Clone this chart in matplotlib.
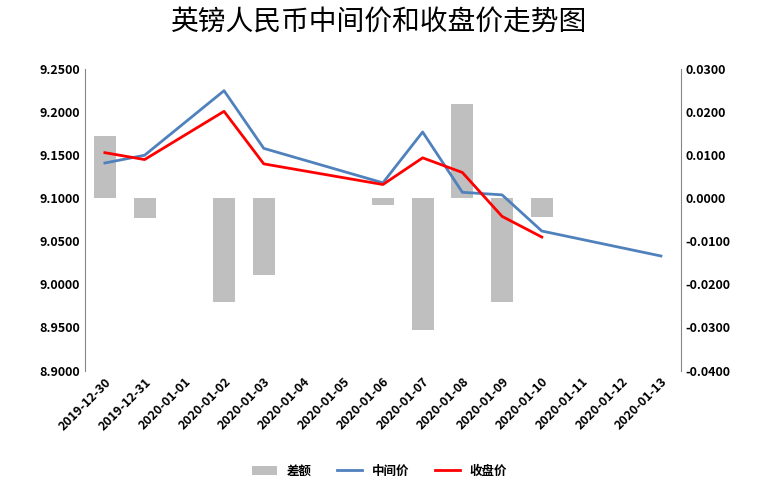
import matplotlib.pyplot as plt
import numpy as np

plt.rcParams['font.family'] = ['Noto Sans CJK SC', 'DejaVu Sans']

dates = ['2019-12-30', '2019-12-31', '2020-01-01', '2020-01-02', '2020-01-03',
         '2020-01-04', '2020-01-05', '2020-01-06', '2020-01-07', '2020-01-08',
         '2020-01-09', '2020-01-10', '2020-01-11', '2020-01-12', '2020-01-13']
nan = np.nan
mid = [9.141, 9.150, nan, 9.225, 9.158, nan, nan, 9.118, 9.177, 9.107,
       9.104, 9.062, nan, nan, 9.033]
close = [9.153, 9.145, nan, 9.201, 9.140, nan, nan, 9.116, 9.147, 9.130,
         9.079, 9.055, nan, nan, nan]
diff = [0.0145, -0.0045, nan, -0.0240, -0.0178, nan, nan, -0.0015, -0.0305,
        0.0218, -0.0240, -0.0043, nan, nan, nan]

x = np.arange(len(dates))
fig = plt.figure(figsize=(7.59, 4.94), dpi=100)
ax = fig.add_axes([0.112, 0.25, 0.785, 0.61])
ax2 = ax.twinx()

ax2.bar(x, diff, width=0.55, color='#bfbfbf', label='差额', zorder=1)
ax2.set_ylim(-0.04, 0.03)
ax2.set_yticks(np.arange(-0.04, 0.0301, 0.01))
ax2.set_yticklabels([f'{v:.4f}' for v in np.arange(-0.04, 0.0301, 0.01)])

def connected(vals):
    v = np.array(vals, dtype=float)
    m = ~np.isnan(v)
    return x[m], v[m]

ax.set_zorder(ax2.get_zorder() + 1)
ax.patch.set_visible(False)
ax.plot(*connected(mid), color='#4f81bd', lw=2, label='中间价')
ax.plot(*connected(close), color='#ff0000', lw=2, label='收盘价')
ax.set_ylim(8.9, 9.25)
ax.set_yticks(np.arange(8.9, 9.2501, 0.05))
ax.set_yticklabels([f'{v:.4f}' for v in np.arange(8.9, 9.2501, 0.05)])
ax.set_xlim(-0.5, len(dates) - 0.5)
ax.set_xticks(x)
ax.set_xticklabels(dates, rotation=45, ha='right', rotation_mode='anchor')

for a in (ax, ax2):
    a.tick_params(labelsize=9, length=0)
    for lab in a.get_xticklabels() + a.get_yticklabels():
        lab.set_fontweight('bold')
    for s in a.spines.values():
        s.set_visible(False)
ax.spines['left'].set_visible(True)
ax.spines['left'].set_color('#868686')
ax2.spines['right'].set_visible(True)
ax2.spines['right'].set_color('#868686')

fig.suptitle('英镑人民币中间价和收盘价走势图', fontsize=20, y=0.985)
h2, l2 = ax2.get_legend_handles_labels()
h1, l1 = ax.get_legend_handles_labels()
fig.legend(h2 + h1, l2 + l1, loc='lower center', ncol=3, frameon=False,
           prop={'size': 9, 'weight': 'bold'}, bbox_to_anchor=(0.5, 0.01))
fig.savefig('out.png')
